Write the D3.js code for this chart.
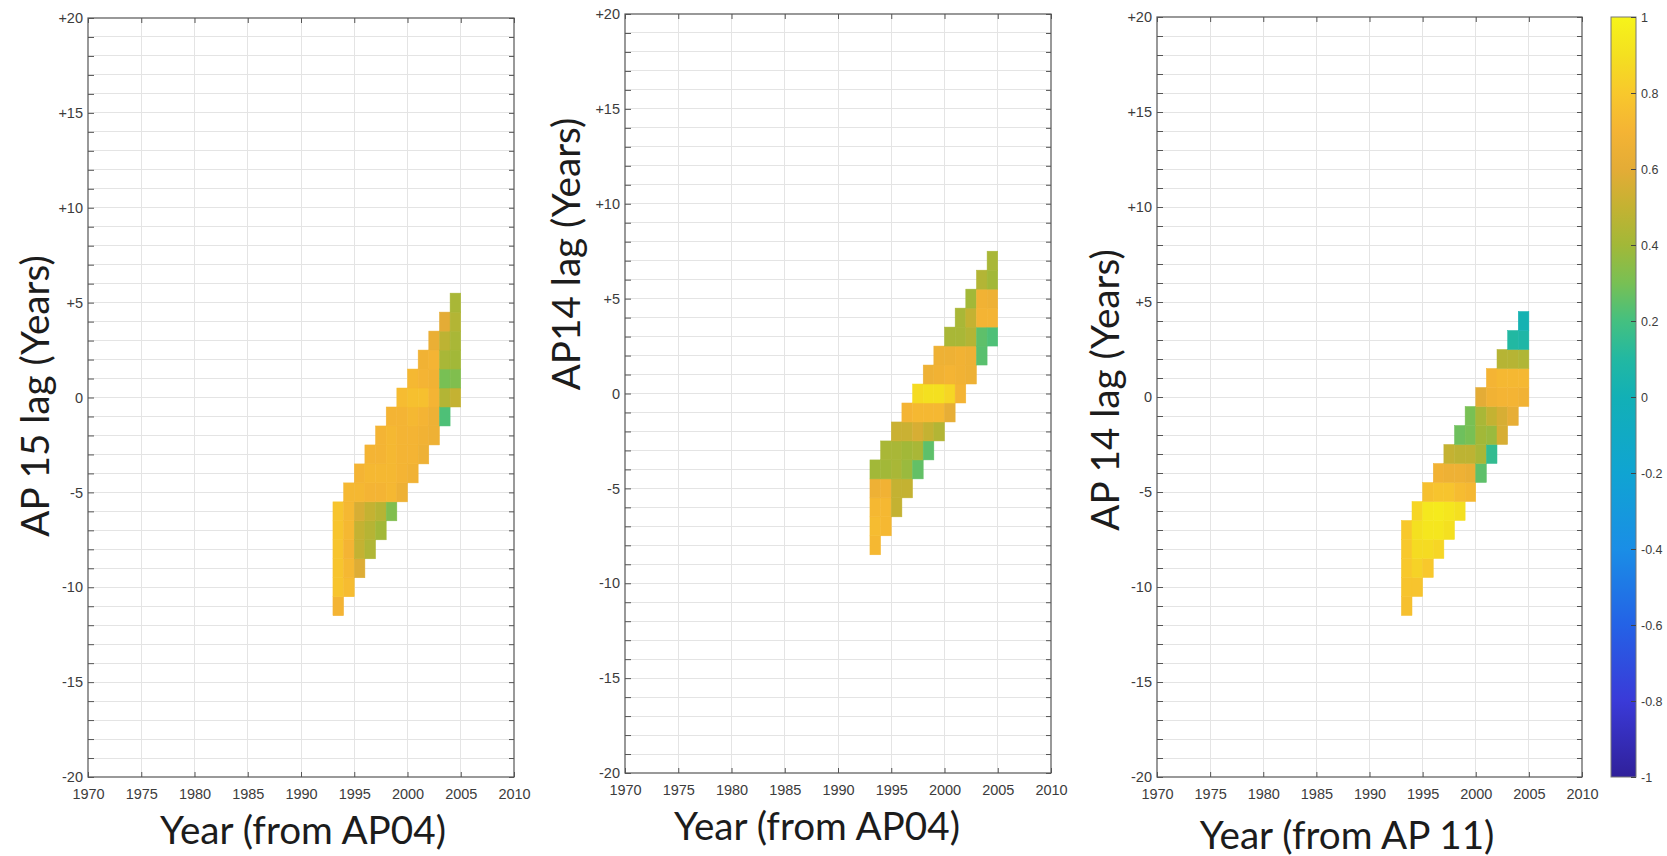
<!DOCTYPE html>
<html><head><meta charset="utf-8">
<script src="https://cdn.jsdelivr.net/npm/d3@7"></script>
<style>body{margin:0;background:#fff}svg{display:block}</style>
</head><body>
<svg id="c" width="1667" height="856"></svg>
<script>
// ---------------- DATA ----------------
const years = [1993,1994,1995,1996,1997,1998,1999,2000,2001,2002,2003,2004];
const xTicks = [1970,1975,1980,1985,1990,1995,2000,2005,2010];
const yTicks = [20,15,10,5,0,-5,-10,-15,-20];
const yTickLabels = ["+20","+15","+10","+5","0","-5","-10","-15","-20"];
const cbTicks = [1,0.8,0.6,0.4,0.2,0,-0.2,-0.4,-0.6,-0.8,-1];
const cbTickLabels = ["1","0.8","0.6","0.4","0.2","0","-0.2","-0.4","-0.6","-0.8","-1"];
const panelYTitles = ["AP 15 lag (Years)","AP14 lag (Years)","AP 14 lag (Years)"];
const panelXTitles = ["Year (from AP04)","Year (from AP04)","Year (from AP 11)"];

// first (lowest) lag of each year column; values listed from lowest lag upward
const panel1FirstLag = [-11,-10,-9,-8,-7,-6,-5,-4,-3,-2,-1,0];
const panel1Values = [
  [0.70,0.78,0.78,0.78,0.78,0.78],
  [0.74,0.72,0.70,0.72,0.72,0.72],
  [0.58,0.50,0.50,0.56,0.72,0.70],
  [0.44,0.46,0.50,0.70,0.72,0.70],
  [0.40,0.46,0.70,0.72,0.70,0.70],
  [0.32,0.72,0.72,0.72,0.72,0.70],
  [0.66,0.70,0.70,0.70,0.70,0.74],
  [0.68,0.70,0.70,0.72,0.76,0.72],
  [0.66,0.68,0.70,0.76,0.70,0.68],
  [0.66,0.66,0.70,0.68,0.70,0.64],
  [0.22,0.45,0.30,0.42,0.48,0.60],
  [0.50,0.32,0.40,0.42,0.45,0.42]
];
const panel2FirstLag = [-8,-7,-6,-5,-4,-3,-2,-1,0,1,2,3];
const panel2Values = [
  [0.72,0.74,0.72,0.66,0.40],
  [0.72,0.72,0.68,0.40,0.42],
  [0.50,0.50,0.42,0.42,0.52],
  [0.50,0.38,0.40,0.52,0.70],
  [0.26,0.42,0.56,0.72,0.88],
  [0.25,0.50,0.72,0.90,0.66],
  [0.45,0.72,0.90,0.68,0.66],
  [0.62,0.86,0.70,0.66,0.42],
  [0.70,0.68,0.68,0.42,0.42],
  [0.66,0.66,0.45,0.50,0.40],
  [0.24,0.25,0.70,0.68,0.45],
  [0.22,0.70,0.66,0.40,0.42]
];
const panel3FirstLag = [-11,-10,-9,-8,-7,-6,-5,-4,-3,-2,-1,0];
const panel3Values = [
  [0.76,0.78,0.80,0.80,0.80],
  [0.78,0.84,0.88,0.90,0.86],
  [0.80,0.88,0.93,0.94,0.76],
  [0.86,0.93,0.95,0.78,0.68],
  [0.90,0.93,0.78,0.66,0.50],
  [0.90,0.74,0.66,0.48,0.28],
  [0.72,0.64,0.48,0.30,0.30],
  [0.25,0.42,0.40,0.42,0.60],
  [0.15,0.38,0.50,0.68,0.70],
  [0.56,0.56,0.70,0.72,0.46],
  [0.62,0.70,0.72,0.46,0.10],
  [0.68,0.72,0.44,0.08,0.02]
];

// colormap (parula-like, as seen in the reference colorbar)
const cmapStops  = [-1,-0.8,-0.6,-0.4,-0.2,0,0.1,0.2,0.3,0.4,0.5,0.6,0.7,0.8,0.9,1];
const cmapColors = ["#30209a","#3a3ad8","#2462e6","#1a8ee6","#10a4d2","#12b0b6","#22b8a2","#44c080",
                    "#78c054","#a2b838","#c4b232","#e4ac36","#f4b434","#f8c82c","#f4e020","#f6f41a"];

// ---------------- DRAW ----------------
const svg = d3.select("#c");
const color = d3.scaleLinear().domain(cmapStops).range(cmapColors).interpolate(d3.interpolateRgb).clamp(true);

const layout = [
  {left:88,  right:514,  top:18, bottom:777, yTitleX:49,   yTitleY:396, xTitleX:303,  xTitleY:844},
  {left:625, right:1051, top:14, bottom:773, yTitleX:580,  yTitleY:254, xTitleX:817,  xTitleY:840},
  {left:1157,right:1582, top:17, bottom:777, yTitleX:1119, yTitleY:390, xTitleX:1347, xTitleY:849}
];
const panels = [
  {firstLag: panel1FirstLag, values: panel1Values},
  {firstLag: panel2FirstLag, values: panel2Values},
  {firstLag: panel3FirstLag, values: panel3Values}
];

const tickFont = "'Liberation Sans', Arial, sans-serif";
const titleFont = "Lato, 'Open Sans', sans-serif";

// fit title font size
const probe = svg.append("text").attr("font-family", titleFont).attr("font-size", 40).text(panelXTitles[0]);
const w40 = probe.node().getComputedTextLength();
probe.remove();
const titleSize = 40 * 286 / w40;

const minorLags = d3.range(-20, 21);
const minorInner = d3.range(-19, 20);

panels.forEach((p, pi) => {
  const L = layout[pi];
  const x = d3.scaleLinear().domain([1970, 2010]).range([L.left, L.right]);
  const y = d3.scaleLinear().domain([-20, 20]).range([L.bottom, L.top]);
  const g = svg.append("g");

  // grid
  g.append("g").selectAll("line").data(minorInner).join("line")
    .attr("x1", L.left).attr("x2", L.right)
    .attr("y1", d => y(d)).attr("y2", d => y(d))
    .attr("stroke", "#e4e4e4").attr("stroke-width", 1).attr("shape-rendering", "crispEdges");
  g.append("g").selectAll("line").data(xTicks.slice(1, -1)).join("line")
    .attr("y1", L.top).attr("y2", L.bottom)
    .attr("x1", d => x(d)).attr("x2", d => x(d))
    .attr("stroke", "#e4e4e4").attr("stroke-width", 1).attr("shape-rendering", "crispEdges");

  // cells
  const cells = [];
  years.forEach((yr, ci) => {
    p.values[ci].forEach((v, k) => cells.push({year: yr, lag: p.firstLag[ci] + k, v}));
  });
  g.append("g").selectAll("rect").data(cells).join("rect")
    .attr("x", d => x(d.year))
    .attr("width", d => x(d.year + 1) - x(d.year))
    .attr("y", d => y(d.lag + 0.5))
    .attr("height", d => y(d.lag - 0.5) - y(d.lag + 0.5))
    .attr("fill", d => color(d.v))
    .attr("stroke", d => color(d.v)).attr("stroke-width", 0.5);

  // axes
  const styleAxis = sel => {
    sel.select(".domain").remove();
    sel.selectAll(".tick line").attr("stroke", "#555");
    sel.selectAll(".tick text").attr("font-family", tickFont).attr("font-size", 14.5).attr("fill", "#3c3c3c");
  };
  g.append("g").attr("transform", `translate(0,${L.bottom})`)
    .call(d3.axisBottom(x).tickValues(xTicks).tickSizeInner(-5).tickSizeOuter(0).tickPadding(12).tickFormat(d3.format("d")))
    .call(styleAxis);
  g.append("g").attr("transform", `translate(0,${L.top})`)
    .call(d3.axisTop(x).tickValues(xTicks).tickSizeInner(-5).tickSizeOuter(0).tickFormat(""))
    .call(styleAxis);
  g.append("g").attr("transform", `translate(${L.left},0)`)
    .call(d3.axisLeft(y).tickValues(minorLags).tickSizeInner(-6).tickSizeOuter(0).tickPadding(5)
      .tickFormat(d => { const i = yTicks.indexOf(d); return i >= 0 ? yTickLabels[i] : ""; }))
    .call(styleAxis);
  g.append("g").attr("transform", `translate(${L.right},0)`)
    .call(d3.axisRight(y).tickValues(minorLags).tickSizeInner(-5).tickSizeOuter(0).tickFormat(""))
    .call(styleAxis);

  // box
  g.append("rect").attr("x", L.left).attr("y", L.top)
    .attr("width", L.right - L.left).attr("height", L.bottom - L.top)
    .attr("fill", "none").attr("stroke", "#555").attr("stroke-width", 1.2);

  // titles
  g.append("text").attr("x", L.xTitleX).attr("y", L.xTitleY)
    .attr("text-anchor", "middle").attr("font-family", titleFont).attr("font-size", titleSize)
    .attr("fill", "#1c1c1c").text(panelXTitles[pi]);
  g.append("text").attr("transform", `translate(${L.yTitleX},${L.yTitleY}) rotate(-90)`)
    .attr("text-anchor", "middle").attr("font-family", titleFont).attr("font-size", titleSize)
    .attr("fill", "#1c1c1c").text(panelYTitles[pi]);
});

// colorbar
const CB = {left:1611, right:1636, top:17, bottom:777};
const defs = svg.append("defs");
const grad = defs.append("linearGradient").attr("id", "cbg")
  .attr("x1", 0).attr("y1", 1).attr("x2", 0).attr("y2", 0);
grad.selectAll("stop").data(cmapStops).join("stop")
  .attr("offset", d => (d + 1) / 2)
  .attr("stop-color", (d, i) => cmapColors[i]);
svg.append("rect").attr("x", CB.left).attr("y", CB.top)
  .attr("width", CB.right - CB.left).attr("height", CB.bottom - CB.top)
  .attr("fill", "url(#cbg)").attr("stroke", "#777").attr("stroke-width", 1);
const cy = d3.scaleLinear().domain([-1, 1]).range([CB.bottom, CB.top]);
svg.append("g").attr("transform", `translate(${CB.right},0)`)
  .call(d3.axisRight(cy).tickValues(cbTicks).tickSizeInner(-5).tickSizeOuter(0).tickPadding(5)
    .tickFormat(d => cbTickLabels[cbTicks.indexOf(d)]))
  .call(sel => {
    sel.select(".domain").remove();
    sel.selectAll(".tick line").attr("stroke", "#444");
    sel.selectAll(".tick text").attr("font-family", tickFont).attr("font-size", 12.5).attr("fill", "#3c3c3c");
  });
</script>
</body></html>
